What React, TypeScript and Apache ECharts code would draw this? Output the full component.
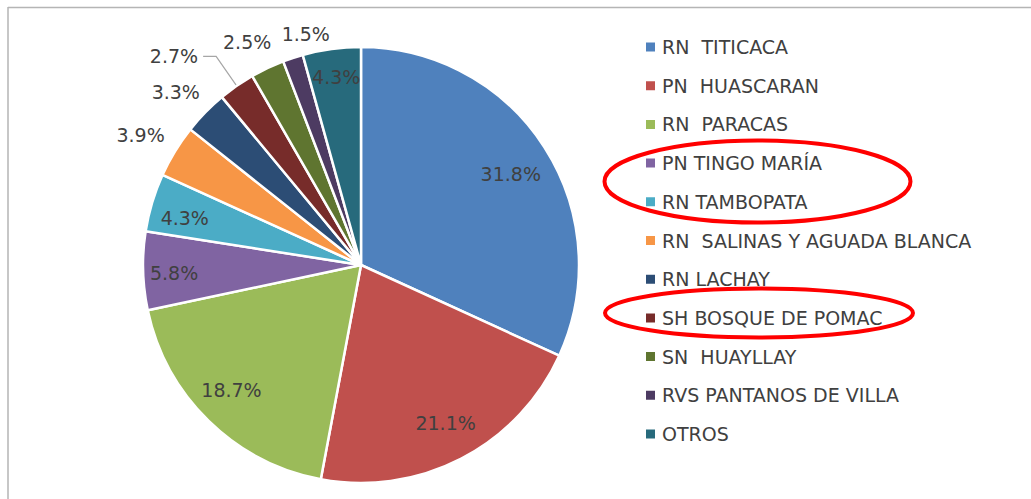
import React, { useEffect, useRef } from "react";
import * as echarts from "echarts";

const categories = [
  "RN  TITICACA",
  "PN  HUASCARAN",
  "RN  PARACAS",
  "PN TINGO MARÍA",
  "RN TAMBOPATA",
  "RN  SALINAS Y AGUADA BLANCA",
  "RN LACHAY",
  "SH BOSQUE DE POMAC",
  "SN  HUAYLLAY",
  "RVS PANTANOS DE VILLA",
  "OTROS",
];
const shares = [31.8, 21.1, 18.7, 5.8, 4.3, 3.9, 3.3, 2.7, 2.5, 1.5, 4.3];
const colors = [
  "#4F81BD", "#C0504D", "#9BBB59", "#8064A2", "#4BACC6", "#F79646",
  "#2C4D75", "#772C2A", "#5F7530", "#4D3B62", "#276A7C",
];
const insideIdx = [0, 1, 2, 3, 4, 10];
const outsideIdx = [5, 6, 8, 9];
const leaderIdx = [7];
// small label nudges [dx, dy] by category index
const nudges: Record<number, [number, number]> = {
  0: [-5, 8],
  1: [0, -5],
  2: [-1, -7],
  3: [-3, 3],
  4: [0, 6],
  10: [0, -6],
  5: [-4, 2],
  6: [-4, 5],
  8: [-5, 6],
  9: [24, 10],
};

const FONT = "DejaVu Sans";
const FS = 19;
const TXT = "#404040";

export default function App() {
  const ref = useRef<HTMLDivElement>(null);
  useEffect(() => {
    if (!ref.current) return;
    const chart = echarts.init(ref.current, undefined, { renderer: "svg" });
    const center = [361, 265];
    const R = 218;
    const labelBase = {
      color: TXT,
      fontSize: FS,
      fontFamily: FONT,
      formatter: (p: any) => `${p.value}%`,
    };
    const mainData = categories.map((name, i) => ({
      name,
      value: shares[i],
      itemStyle: { color: colors[i] },
      label: leaderIdx.includes(i)
        ? { show: true, position: "outside", ...labelBase }
        : { show: false },
      labelLine: leaderIdx.includes(i)
        ? { show: true, length: 36, length2: 13, lineStyle: { color: "#a6a6a6", width: 1.2 } }
        : { show: false },
    }));
    const labelData = (idx: number[]) =>
      categories.map((name, i) => ({
        name,
        value: shares[i],
        itemStyle: { color: "rgba(0,0,0,0)" },
        label: idx.includes(i)
          ? { show: true, position: "inside", ...labelBase }
          : { show: false },
      }));
    const nudge = (p: any) => {
      const n = nudges[p.dataIndex];
      return n ? { dx: n[0], dy: n[1] } : {};
    };
    chart.setOption({
      animation: false,
      legend: {
        orient: "vertical",
        left: 644,
        top: 35,
        padding: 0,
        itemWidth: 13,
        itemHeight: 11,
        itemGap: 14.7,
        icon: "path://M0,0h10v10h-10z",
        selectedMode: false,
        textStyle: { color: TXT, fontSize: FS, fontFamily: FONT, lineHeight: 24 },
        data: categories.map((name, i) => ({ name, itemStyle: { color: colors[i] } })),
      },
      series: [
        {
          type: "pie",
          center,
          radius: [0, R],
          startAngle: 90,
          clockwise: true,
          avoidLabelOverlap: false,
          itemStyle: { borderColor: "#ffffff", borderWidth: 2.5 },
          emphasis: { disabled: true },
          data: mainData,
        },
        {
          type: "pie",
          center,
          radius: [0, R * 1.66],
          silent: true,
          avoidLabelOverlap: false,
          emphasis: { disabled: true },
          labelLayout: nudge,
          data: labelData(insideIdx),
        },
        {
          type: "pie",
          center,
          radius: [0, R * 2.3],
          silent: true,
          avoidLabelOverlap: false,
          emphasis: { disabled: true },
          labelLayout: nudge,
          data: labelData(outsideIdx),
        },
      ],
      graphic: [
        {
          type: "line",
          shape: { x1: 8, y1: 7.5, x2: 1031, y2: 7.5 },
          style: { stroke: "#b5b5b5", lineWidth: 1.5 },
          silent: true,
        },
        {
          type: "line",
          shape: { x1: 8, y1: 7, x2: 8, y2: 499 },
          style: { stroke: "#b5b5b5", lineWidth: 1.5 },
          silent: true,
        },
        {
          type: "ellipse",
          shape: { cx: 757.5, cy: 181.5, rx: 153, ry: 41 },
          style: { fill: "none", stroke: "#FF0000", lineWidth: 4 },
          silent: true,
          z: 10,
        },
        {
          type: "ellipse",
          shape: { cx: 759, cy: 313, rx: 154, ry: 24.5 },
          style: { fill: "none", stroke: "#FF0000", lineWidth: 4 },
          silent: true,
          z: 10,
        },
      ],
    });
    return () => chart.dispose();
  }, []);
  return (
    <div
      ref={ref}
      style={{ position: "absolute", left: 0, top: 0, width: 1031, height: 499, background: "#fff" }}
    />
  );
}
